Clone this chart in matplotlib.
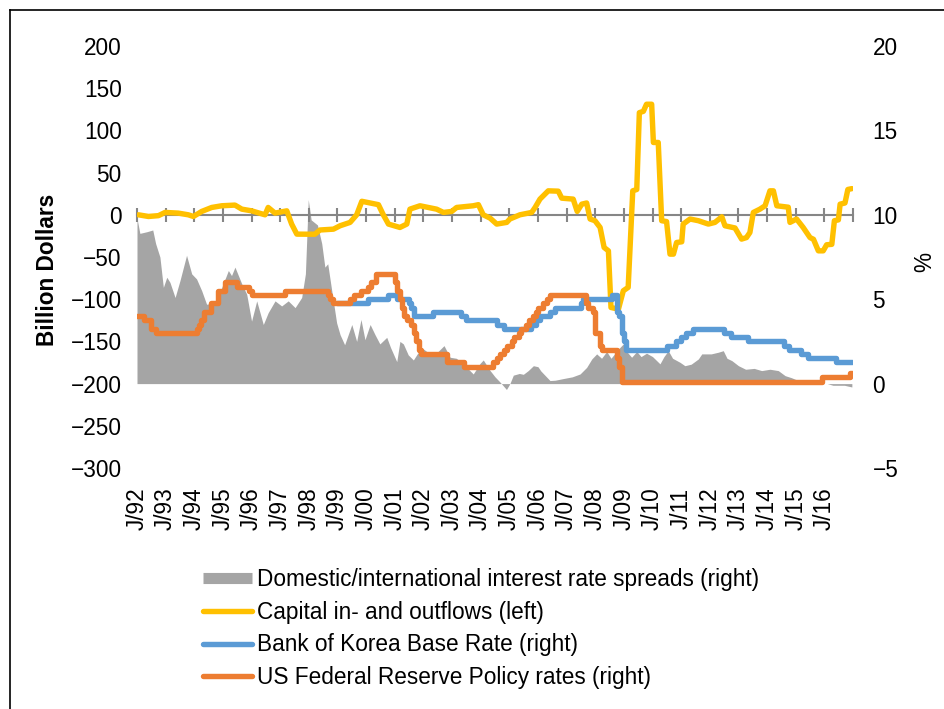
import matplotlib
matplotlib.use("Agg")
import matplotlib.pyplot as plt
from matplotlib.lines import Line2D

plt.rcParams['font.family'] = ['Liberation Sans', 'DejaVu Sans']

# ---------------- data ----------------
tick_years = list(range(1992, 2018))
tick_labels = ["J/%02d" % (y % 100) for y in range(1992, 2017)] + [""]

# Domestic/international interest rate spreads (right axis, %)
spread_x = [1992.00, 1992.10, 1992.35, 1992.55, 1992.65, 1992.80, 1992.92, 1993.04, 1993.15, 1993.33,
            1993.50, 1993.73, 1993.91, 1994.08, 1994.26, 1994.43, 1994.72, 1994.96, 1995.19, 1995.30,
            1995.42, 1995.66, 1995.83, 1996.00, 1996.18, 1996.41, 1996.58, 1996.82, 1997.05, 1997.28,
            1997.52, 1997.75, 1997.88, 1997.98, 1998.08, 1998.30, 1998.45, 1998.56, 1998.66, 1998.80,
            1998.97, 1999.09, 1999.25, 1999.50, 1999.67, 1999.82, 1999.96, 2000.14, 2000.31, 2000.48,
            2000.72, 2000.85, 2001.07, 2001.18, 2001.30, 2001.47, 2001.65, 2001.80, 2002.00, 2002.23,
            2002.45, 2002.72, 2002.93, 2003.15, 2003.39, 2003.74, 2003.98, 2004.09, 2004.33, 2004.50,
            2004.67, 2004.90, 2005.02, 2005.14, 2005.35, 2005.49, 2005.66, 2005.84, 2006.00, 2006.10,
            2006.42, 2006.60, 2006.89, 2007.20, 2007.47, 2007.70, 2007.88, 2008.05, 2008.22, 2008.40,
            2008.55, 2008.81, 2008.98, 2009.10, 2009.27, 2009.45, 2009.60, 2009.79, 2010.00, 2010.26,
            2010.40, 2010.55, 2010.70, 2010.96, 2011.13, 2011.35, 2011.60, 2011.72, 2012.05, 2012.30,
            2012.47, 2012.60, 2012.77, 2013.00, 2013.25, 2013.55, 2013.81, 2014.10, 2014.39, 2014.63,
            2014.85, 2015.09, 2015.44, 2015.79, 2016.10, 2016.30, 2016.70, 2016.96]
spread_y = [9.8, 8.9, 9.0, 9.1, 8.3, 7.5, 5.7, 6.3, 6.0, 5.1,
            6.1, 7.6, 6.5, 6.2, 5.5, 4.7, 4.8, 5.7, 6.7, 6.4,
            6.9, 5.9, 5.3, 3.7, 4.9, 3.5, 4.2, 4.9, 4.6, 4.9,
            4.5, 5.1, 6.5, 10.9, 9.7, 9.4, 8.3, 6.9, 7.1, 5.5,
            3.6, 2.9, 2.3, 3.5, 2.5, 3.8, 2.6, 3.5, 2.9, 2.35,
            2.74, 2.15, 1.3, 2.5, 2.35, 1.7, 1.4, 1.8, 2.05, 1.76,
            1.8, 2.25, 1.56, 1.5, 1.17, 0.57, 1.2, 1.4, 0.77, 0.4,
            0.1, -0.35, 0.0, 0.5, 0.6, 0.55, 0.77, 1.06, 1.0, 0.75,
            0.18, 0.2, 0.3, 0.4, 0.57, 0.96, 1.46, 1.76, 1.5, 1.9,
            1.5, 2.05, 2.35, 1.9, 1.56, 1.9, 1.6, 1.8, 1.6, 1.17,
            1.6, 1.95, 1.5, 1.26, 1.06, 1.15, 1.46, 1.76, 1.76, 1.86,
            1.95, 1.5, 1.36, 1.06, 0.85, 0.9, 0.77, 0.85, 0.77, 0.47,
            0.35, 0.18, 0.08, 0.0, 0.0, -0.1, -0.1, -0.2]

# Capital in- and outflows (left axis, billion dollars)
flow_x = [1992.05, 1992.40, 1992.75, 1992.98, 1993.44, 1993.79, 1993.97, 1994.26, 1994.61, 1994.96,
          1995.42, 1995.66, 1996.00, 1996.47, 1996.58, 1996.82, 1997.23, 1997.40, 1997.58, 1997.98,
          1998.21, 1998.39, 1998.86, 1999.09, 1999.44, 1999.67, 1999.85, 2000.43, 2000.60, 2000.78,
          2001.18, 2001.42, 2001.53, 2001.88, 2002.46, 2002.70, 2002.99, 2003.16, 2003.74, 2003.92,
          2004.09, 2004.33, 2004.56, 2004.91, 2005.02, 2005.37, 2005.78, 2005.90, 2006.07, 2006.36,
          2006.71, 2006.83, 2007.23, 2007.37, 2007.53, 2007.70, 2007.82, 2007.99, 2008.17, 2008.31,
          2008.46, 2008.55, 2008.81, 2008.98, 2009.15, 2009.31, 2009.45, 2009.54, 2009.68, 2009.79,
          2009.97, 2010.03, 2010.20, 2010.32, 2010.49, 2010.61, 2010.73, 2010.84, 2011.02, 2011.07,
          2011.31, 2011.60, 2011.95, 2012.18, 2012.42, 2012.53, 2012.88, 2013.11, 2013.28, 2013.40,
          2013.52, 2013.75, 2013.93, 2014.10, 2014.22, 2014.34, 2014.74, 2014.80, 2015.03, 2015.26,
          2015.50, 2015.62, 2015.79, 2015.96, 2016.08, 2016.26, 2016.35, 2016.49, 2016.55, 2016.72,
          2016.82, 2016.96]
flow_y = [0, -2, -1, 2.8, 2, 0, -2, 4, 8.7, 10.7,
          11.5, 6.7, 4.7, 0, 8.7, 2, 4.7, -11, -22.9, -23,
          -23, -18, -17, -13, -9, 0, 16, 12, 0, -11,
          -15, -11, 6.7, 10.7, 6.7, 2.8, 4, 8.7, 10.7, 12,
          0, -4, -11, -9, -5, 0, 2.8, 8.7, 18.6, 28.4,
          28, 19.7, 18.6, 4, 12.6, 14, -5, -7, -15, -38.7,
          -42.7, -109.8, -111.8, -90, -86, 28.4, 30, 121, 122.6, 131,
          131, 85.7, 85.7, -7, -8, -46.6, -46.6, -32.8, -32, -11,
          -5, -7, -11, -9, -2.4, -13, -15.6, -28.8, -27, -21,
          2.8, 6.7, 10.7, 28.4, 28.4, 10.7, 9, -9, -5, -15,
          -27, -29, -42.7, -42.7, -35.5, -35, -7, -6, 12.6, 14,
          30, 31]

# Bank of Korea Base Rate (right axis, %), value from each date on
bok_x = [1999.00, 2000.08, 2000.75, 2001.08, 2001.50, 2001.58, 2001.67, 2002.33, 2003.33, 2003.50,
         2004.58, 2004.83, 2005.75, 2005.92, 2006.08, 2006.42, 2006.58, 2007.50, 2007.58, 2008.58,
         2008.75, 2008.83, 2008.92, 2009.00, 2009.08, 2010.50, 2010.83, 2011.00, 2011.17, 2011.42,
         2012.50, 2012.75, 2013.33, 2014.58, 2014.75, 2015.17, 2015.42, 2016.42, 2016.96]
bok_y = [4.75, 5.0, 5.25, 5.0, 4.75, 4.5, 4.0, 4.25, 4.0, 3.75,
         3.5, 3.25, 3.5, 3.75, 4.0, 4.25, 4.5, 4.75, 5.0, 5.25,
         4.25, 4.0, 3.0, 2.5, 2.0, 2.25, 2.5, 2.75, 3.0, 3.25,
         3.0, 2.75, 2.5, 2.25, 2.0, 1.75, 1.5, 1.25, 1.25]

# US Federal Reserve policy rate (right axis, %), value from each date on
fed_x = [1992.00, 1992.25, 1992.50, 1992.67, 1994.08, 1994.17, 1994.25, 1994.33, 1994.58, 1994.83,
         1995.08, 1995.50, 1995.92, 1996.00, 1997.17, 1998.67, 1998.75, 1998.83, 1999.42, 1999.58,
         1999.83, 2000.08, 2000.17, 2000.33, 2001.00, 2001.08, 2001.17, 2001.25, 2001.33, 2001.42,
         2001.58, 2001.67, 2001.75, 2001.83, 2001.92, 2002.83, 2003.42, 2004.42, 2004.58, 2004.67,
         2004.83, 2004.92, 2005.08, 2005.17, 2005.33, 2005.42, 2005.58, 2005.67, 2005.83, 2005.92,
         2006.00, 2006.17, 2006.33, 2006.42, 2007.67, 2007.75, 2007.92, 2008.00, 2008.17, 2008.25,
         2008.75, 2008.83, 2008.92, 2015.92, 2016.88, 2016.96]
fed_y = [4.0, 3.75, 3.25, 3.0, 3.25, 3.5, 3.75, 4.25, 4.75, 5.5,
         6.0, 5.75, 5.5, 5.25, 5.5, 5.25, 5.0, 4.75, 5.0, 5.25,
         5.5, 5.75, 6.0, 6.5, 6.0, 5.5, 5.0, 4.5, 4.0, 3.75,
         3.5, 3.0, 2.5, 2.0, 1.75, 1.25, 1.0, 1.25, 1.5, 1.75,
         2.0, 2.25, 2.5, 2.75, 3.0, 3.25, 3.5, 3.75, 4.0, 4.25,
         4.5, 4.75, 5.0, 5.25, 4.75, 4.5, 4.25, 3.0, 2.25, 2.0,
         1.5, 1.0, 0.1, 0.38, 0.62, 0.62]

series_names = ["Domestic/international interest rate spreads (right)",
                "Capital in- and outflows (left)",
                "Bank of Korea Base Rate (right)",
                "US Federal Reserve Policy rates (right)"]

# ---------------- styling ----------------
C_GRAY = "#A5A5A5"
C_YEL = "#FFC000"
C_BLUE = "#5B9BD5"
C_ORG = "#ED7D31"
C_AXIS = "#868686"
FS = 16.3
LW = 3.9

W, H = 944, 709
fig = plt.figure(figsize=(W / 100, H / 100), dpi=100)
rect = [137 / W, 241 / H, 716 / W, 422 / H]

ax_bg = fig.add_axes(rect)      # area (right scale), x tick labels
ax = ax_bg.twinx()              # left scale
ax2 = ax_bg.twinx()             # right scale lines

ax_bg.set_zorder(0)
ax.set_zorder(1)
ax2.set_zorder(2)
ax.patch.set_visible(False)
ax2.patch.set_visible(False)

ax_bg.set_xlim(1992, 2017)
ax_bg.set_ylim(-5, 20)
ax.set_ylim(-300, 200)
ax2.set_ylim(-5, 20)

# gray area
ax_bg.fill_between(spread_x, spread_y, 0, color=C_GRAY, linewidth=0)

# yellow line (left)
ax.plot(flow_x, flow_y, color=C_YEL, lw=LW, solid_joinstyle='round', solid_capstyle='round', zorder=3)

# rate lines (right)
ax2.plot(bok_x, bok_y, color=C_BLUE, lw=LW, drawstyle='steps-post',
         solid_joinstyle='round', solid_capstyle='round')
ax2.plot(fed_x, fed_y, color=C_ORG, lw=LW, drawstyle='steps-post',
         solid_joinstyle='round', solid_capstyle='round')

# spines off
for a in (ax_bg, ax, ax2):
    for s in a.spines.values():
        s.set_visible(False)

# x tick labels at bottom (ax_bg)
ax_bg.set_xticks(tick_years)
ax_bg.set_xticklabels(tick_labels)
ax_bg.tick_params(axis='x', length=0, pad=14, labelsize=FS, labelrotation=90, colors='black')
ax_bg.yaxis.set_visible(False)

# horizontal axis at zero of left scale with crossing ticks
ax.xaxis.set_visible(True)
ax.spines['bottom'].set_visible(True)
ax.spines['bottom'].set_position(('data', 0))
ax.spines['bottom'].set_color(C_AXIS)
ax.spines['bottom'].set_linewidth(1.5)
ax.spines['bottom'].set_zorder(2)
ax.tick_params(axis='x', direction='inout', length=10, width=1.5, color=C_AXIS,
               labelbottom=False, bottom=True, top=False)

# left ticks
ax.yaxis.tick_left()
ax.set_yticks(range(-300, 201, 50))
ax.tick_params(axis='y', length=0, pad=11, labelsize=FS, colors='black')

# right ticks
ax2.set_yticks(range(-5, 21, 5))
ax2.tick_params(axis='y', length=0, pad=14, labelsize=FS, colors='black')

# axis titles
fig.text(48 / W, 1 - 270 / H, "Billion Dollars", rotation=90, ha='center', va='center',
         fontsize=FS, fontweight='bold')
fig.text(925 / W, 1 - 262 / H, "%", rotation=90, ha='center', va='center', fontsize=FS)

# legend
handles = [
    Line2D([], [], color=C_GRAY, lw=8, solid_capstyle='butt'),
    Line2D([], [], color=C_YEL, lw=LW, solid_capstyle='round'),
    Line2D([], [], color=C_BLUE, lw=LW, solid_capstyle='round'),
    Line2D([], [], color=C_ORG, lw=LW, solid_capstyle='round'),
]
fig.legend(handles, series_names, loc='upper left', bbox_to_anchor=(203 / W, 1 - 568 / H),
           frameon=False, fontsize=FS, handlelength=2.15, handletextpad=0.25,
           labelspacing=0.43, borderpad=0, borderaxespad=0)

# partial frame (top and left)
fig.add_artist(Line2D([10 / W, 1], [1 - 10 / H, 1 - 10 / H], transform=fig.transFigure,
                      color='black', lw=1.2))
fig.add_artist(Line2D([10 / W, 10 / W], [0, 1 - 10 / H], transform=fig.transFigure,
                      color='black', lw=1.2))

fig.savefig("out.png", dpi=100)
